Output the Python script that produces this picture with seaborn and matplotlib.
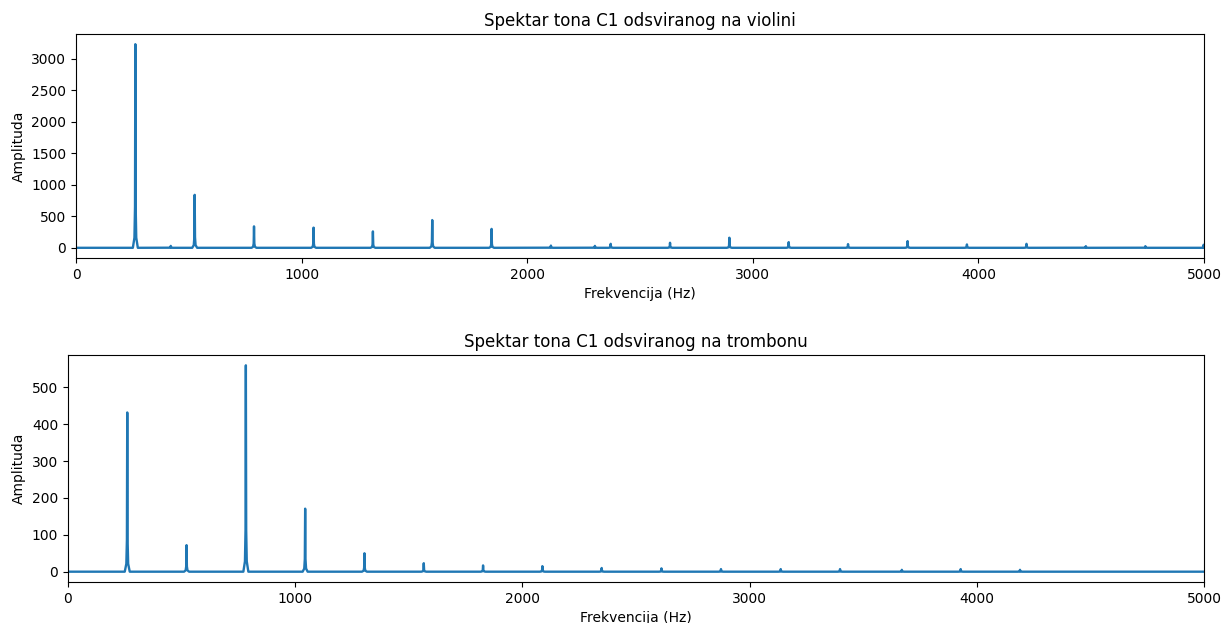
import numpy as np
import pandas as pd
import matplotlib
matplotlib.use("Agg")
import matplotlib.pyplot as plt
import seaborn as sns

# Harmonic peaks of the note (Hz) and their amplitudes
violin_freq = [263, 420, 526, 789, 1053, 1316, 1579, 1842, 2105, 2300, 2370,
               2633, 2896, 3159, 3422, 3686, 3949, 4213, 4476, 4740, 4998]
violin_amp = [3230, 30, 840, 340, 320, 260, 440, 300, 35, 30, 63,
              80, 160, 90, 58, 106, 53, 63, 26, 26, 48]

trombone_freq = [261, 522, 783, 1044, 1305, 1566, 1827, 2088, 2349, 2612,
                 2874, 3137, 3398, 3670, 3929, 4190]
trombone_amp = [432, 72, 560, 171, 50, 23, 17, 15, 10, 9,
                7, 7, 7, 5, 7, 5]

f_max = 5000
x_ticks = [0, 1000, 2000, 3000, 4000, 5000]


def spectrum_frame(freq, amp):
    # Each harmonic is drawn as a narrow spike with a small skirt at its base
    xs, ys = [0.0], [0.0]
    for f, a in zip(freq, amp):
        xs += [f - 11, f - 4, f - 1.5, f, f + 1.5, f + 4, f + 11]
        ys += [0.0, a * 0.05, a * 0.2, a, a * 0.2, a * 0.05, 0.0]
    xs.append(f_max)
    ys.append(0.0)
    return pd.DataFrame({"f": xs, "A": ys})


fig = plt.figure(figsize=(12.22, 6.23), dpi=100)
ax1 = fig.add_axes([0.0622, 0.5859, 0.9231, 0.3595])
ax2 = fig.add_axes([0.0556, 0.0658, 0.9297, 0.3644])

panels = [
    (ax1, violin_freq, violin_amp, "Spektar tona C1 odsviranog na violini"),
    (ax2, trombone_freq, trombone_amp, "Spektar tona C1 odsviranog na trombonu"),
]

for ax, freq, amp, title in panels:
    df = spectrum_frame(freq, amp)
    sns.lineplot(data=df, x="f", y="A", ax=ax, color="#1f77b4",
                 linewidth=1.7, estimator=None, sort=False)
    ax.set_xlim(0, f_max)
    ax.set_xticks(x_ticks)
    ax.set_title(title)
    ax.set_xlabel("Frekvencija (Hz)")
    ax.set_ylabel("Amplituda")

fig.savefig("out.png", dpi=100)
